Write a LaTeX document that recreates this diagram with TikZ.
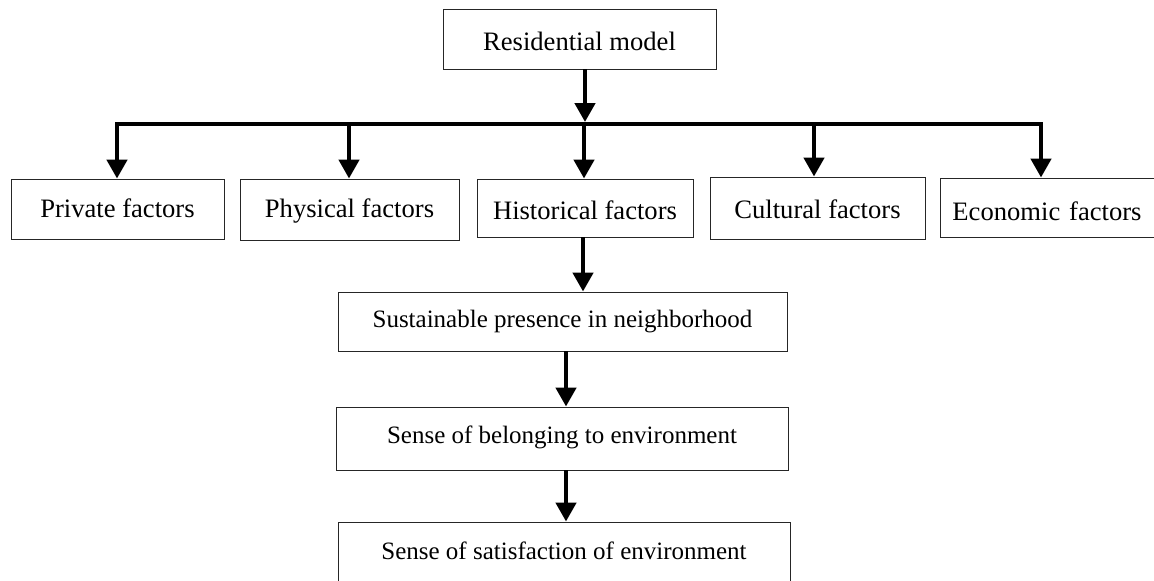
\documentclass[tikz,border=0pt]{standalone}
\usepackage{fontspec}
\setmainfont{Liberation Serif}
\usetikzlibrary{arrows.meta}
\begin{document}
\begin{tikzpicture}[x=1pt,y=-1pt,
  box/.style={draw=black!85,line width=0.9pt,inner sep=0pt,font=\fontsize{26.6}{30}\selectfont},
  lowbox/.style={box,font=\fontsize{25}{30}\selectfont},
  arr/.style={line width=4.5pt,-{Triangle[length=19pt,width=20pt]}},
  bararr/.style={line width=4.5pt,line join=miter,{Triangle[length=19pt,width=20pt]}-{Triangle[length=19pt,width=20pt]}}]
\clip (0,0) rectangle (1154,581);
\fill[white] (0,0) rectangle (1154,581);
% nodes
\node[box,minimum width=273pt,minimum height=60pt,text height=26pt,text depth=4pt] (res) at (579.5,39) {Residential model};
\node[box,minimum width=213pt,minimum height=60pt,text height=23pt,text depth=7pt] (priv) at (117.5,209) {Private factors};
\node[box,minimum width=219pt,minimum height=61pt,text height=22.5pt,text depth=7.5pt] (phys) at (349.5,209.5) {Physical factors};
\node[box,minimum width=216pt,minimum height=58pt,text height=26pt,text depth=4pt] (hist) at (585,208) {Historical factors};
\node[box,minimum width=215pt,minimum height=62pt,text height=25pt,text depth=5pt] (cult) at (817.5,208) {Cultural factors};
\node[box,anchor=west,inner xsep=12pt,text width=201pt,align=left,minimum height=59pt,text height=27.5pt,text depth=2.5pt] (econ) at (940,207.5) {Economic factors};
\node[lowbox,minimum width=449pt,minimum height=59pt,text height=20.5pt,text depth=9.5pt] (sust) at (562.5,321.5) {Sustainable presence in neighborhood};
\node[lowbox,minimum width=452pt,minimum height=63pt,text height=19.5pt,text depth=10.5pt] (bel) at (562,438.5) {Sense of belonging to environment};
\node[lowbox,minimum width=452pt,minimum height=82pt,text height=11pt,text depth=19pt] (sat) at (564,563) {Sense of satisfaction of environment};
% bar coordinates
\coordinate (b1) at (117,124);
\coordinate (b2) at (349,124);
\coordinate (b3) at (584,124);
\coordinate (b4) at (814,124);
\coordinate (b5) at (1041,124);
\coordinate (top) at (585,122);
% connectors
\draw[arr] (res.south -| top) -- (top);
\draw[bararr] (b1 |- priv.north) -- (b1) -- (b5) -- (b5 |- econ.north);
\draw[arr] (b2) -- (b2 |- phys.north);
\draw[arr] (b3) -- (b3 |- hist.north);
\draw[arr] (b4) -- (b4 |- cult.north);
\coordinate (h1) at (583,0);
\draw[arr] (hist.south -| h1) -- (sust.north -| h1);
\coordinate (s1) at (566,0);
\draw[arr] (sust.south -| s1) -- (bel.north -| s1);
\draw[arr] (bel.south -| s1) -- (sat.north -| s1);
\end{tikzpicture}
\end{document}
